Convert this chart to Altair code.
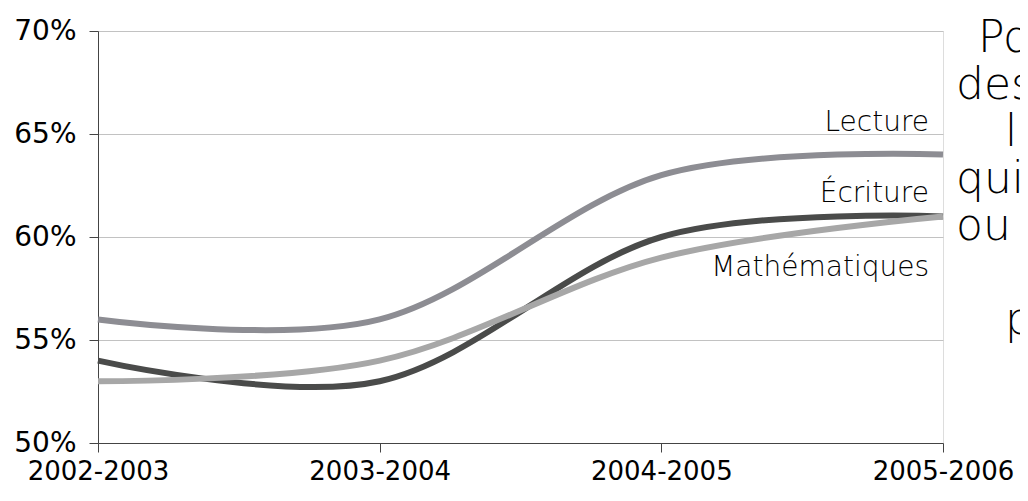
import altair as alt
import pandas as pd

# ---- data ----
years = ["2002-2003", "2003-2004", "2004-2005", "2005-2006"]
lecture = [56, 56, 63, 64]
ecriture = [54, 53, 60, 61]
maths = [53, 54, 59, 61]
series_names = ["Lecture", "Écriture", "Mathématiques"]
series_colors = ["#8d8d93", "#4a4b4a", "#a7a7a7"]
label_levels = [65.15, 61.7, 58.1]   # vertical anchor of each series label, in %
y_ticks = [50, 55, 60, 65, 70]
title_lines = ["Pourcentage", "des élèves de", "la 3e année", "qui ont atteint",
               "ou dépassé", "la norme", "provinciale"]

W, H = 845, 412
TOP = 23
FONT = "DejaVu Sans"

series_values = [lecture, ecriture, maths]
frames = []
for name, vals in zip(series_names, series_values):
    frames.append(pd.DataFrame({"annee": years, "pct": vals, "serie": name}))

x_enc = alt.X(
    "annee:O",
    sort=years,
    scale=alt.Scale(type="point", padding=0),
    axis=alt.Axis(
        title=None, labelAngle=0, labelFont=FONT, labelFontSize=26,
        labelColor="#000000", tickSize=9, tickColor="#444444",
        domainColor="#444444", labelPadding=6, grid=False,
    ),
)
y_scale = alt.Scale(domain=[50, 70], nice=False, zero=False)
y_enc = alt.Y(
    "pct:Q",
    scale=y_scale,
    axis=alt.Axis(
        title=None, values=y_ticks, labelExpr="datum.value + '%'",
        labelFont=FONT, labelFontSize=28, labelColor="#000000",
        tickSize=9, tickColor="#444444", domainColor="#444444",
        labelPadding=13, grid=True, gridColor="#c2c2c2", gridWidth=1,
    ),
)

layers = []
for df, color in zip(frames, series_colors):
    layers.append(
        alt.Chart(df).mark_line(
            interpolate="cardinal", strokeWidth=6, color=color, strokeCap="butt"
        ).encode(x=x_enc, y=y_enc)
    )

# series labels (annotation text), right-aligned just left of the last year
for name, lvl in zip(series_names, label_levels):
    layers.append(
        alt.Chart(alt.Data(values=[{}])).mark_text(
            align="right", baseline="alphabetic", font=FONT, fontSize=28,
            fontWeight=200, color="#000000",
        ).encode(x=alt.value(831), y=alt.datum(lvl), text=alt.value(name))
    )

# clipped title at right (page baselines 52, 99, 146, ...)
title_x = [880, 858, 907, 858, 858, 945, 907]
for i, (line, px) in enumerate(zip(title_lines, title_x)):
    py = 52 + 47 * i - (TOP + 8)
    layers.append(
        alt.Chart(alt.Data(values=[{}])).mark_text(
            align="left", baseline="alphabetic", font=FONT, fontSize=44,
            fontWeight=200, color="#000000",
        ).encode(x=alt.value(px), y=alt.value(py), text=alt.value(line))
    )

chart = alt.layer(*layers).properties(
    width=W,
    height=H,
    autosize=alt.AutoSizeParams(type="none"),
    padding={"left": 90, "top": TOP, "right": 77, "bottom": 480 - TOP - H},
).configure_view(stroke=None).configure(background="#ffffff")

chart.save("out.html", embed_options={"renderer": "svg", "actions": False})
